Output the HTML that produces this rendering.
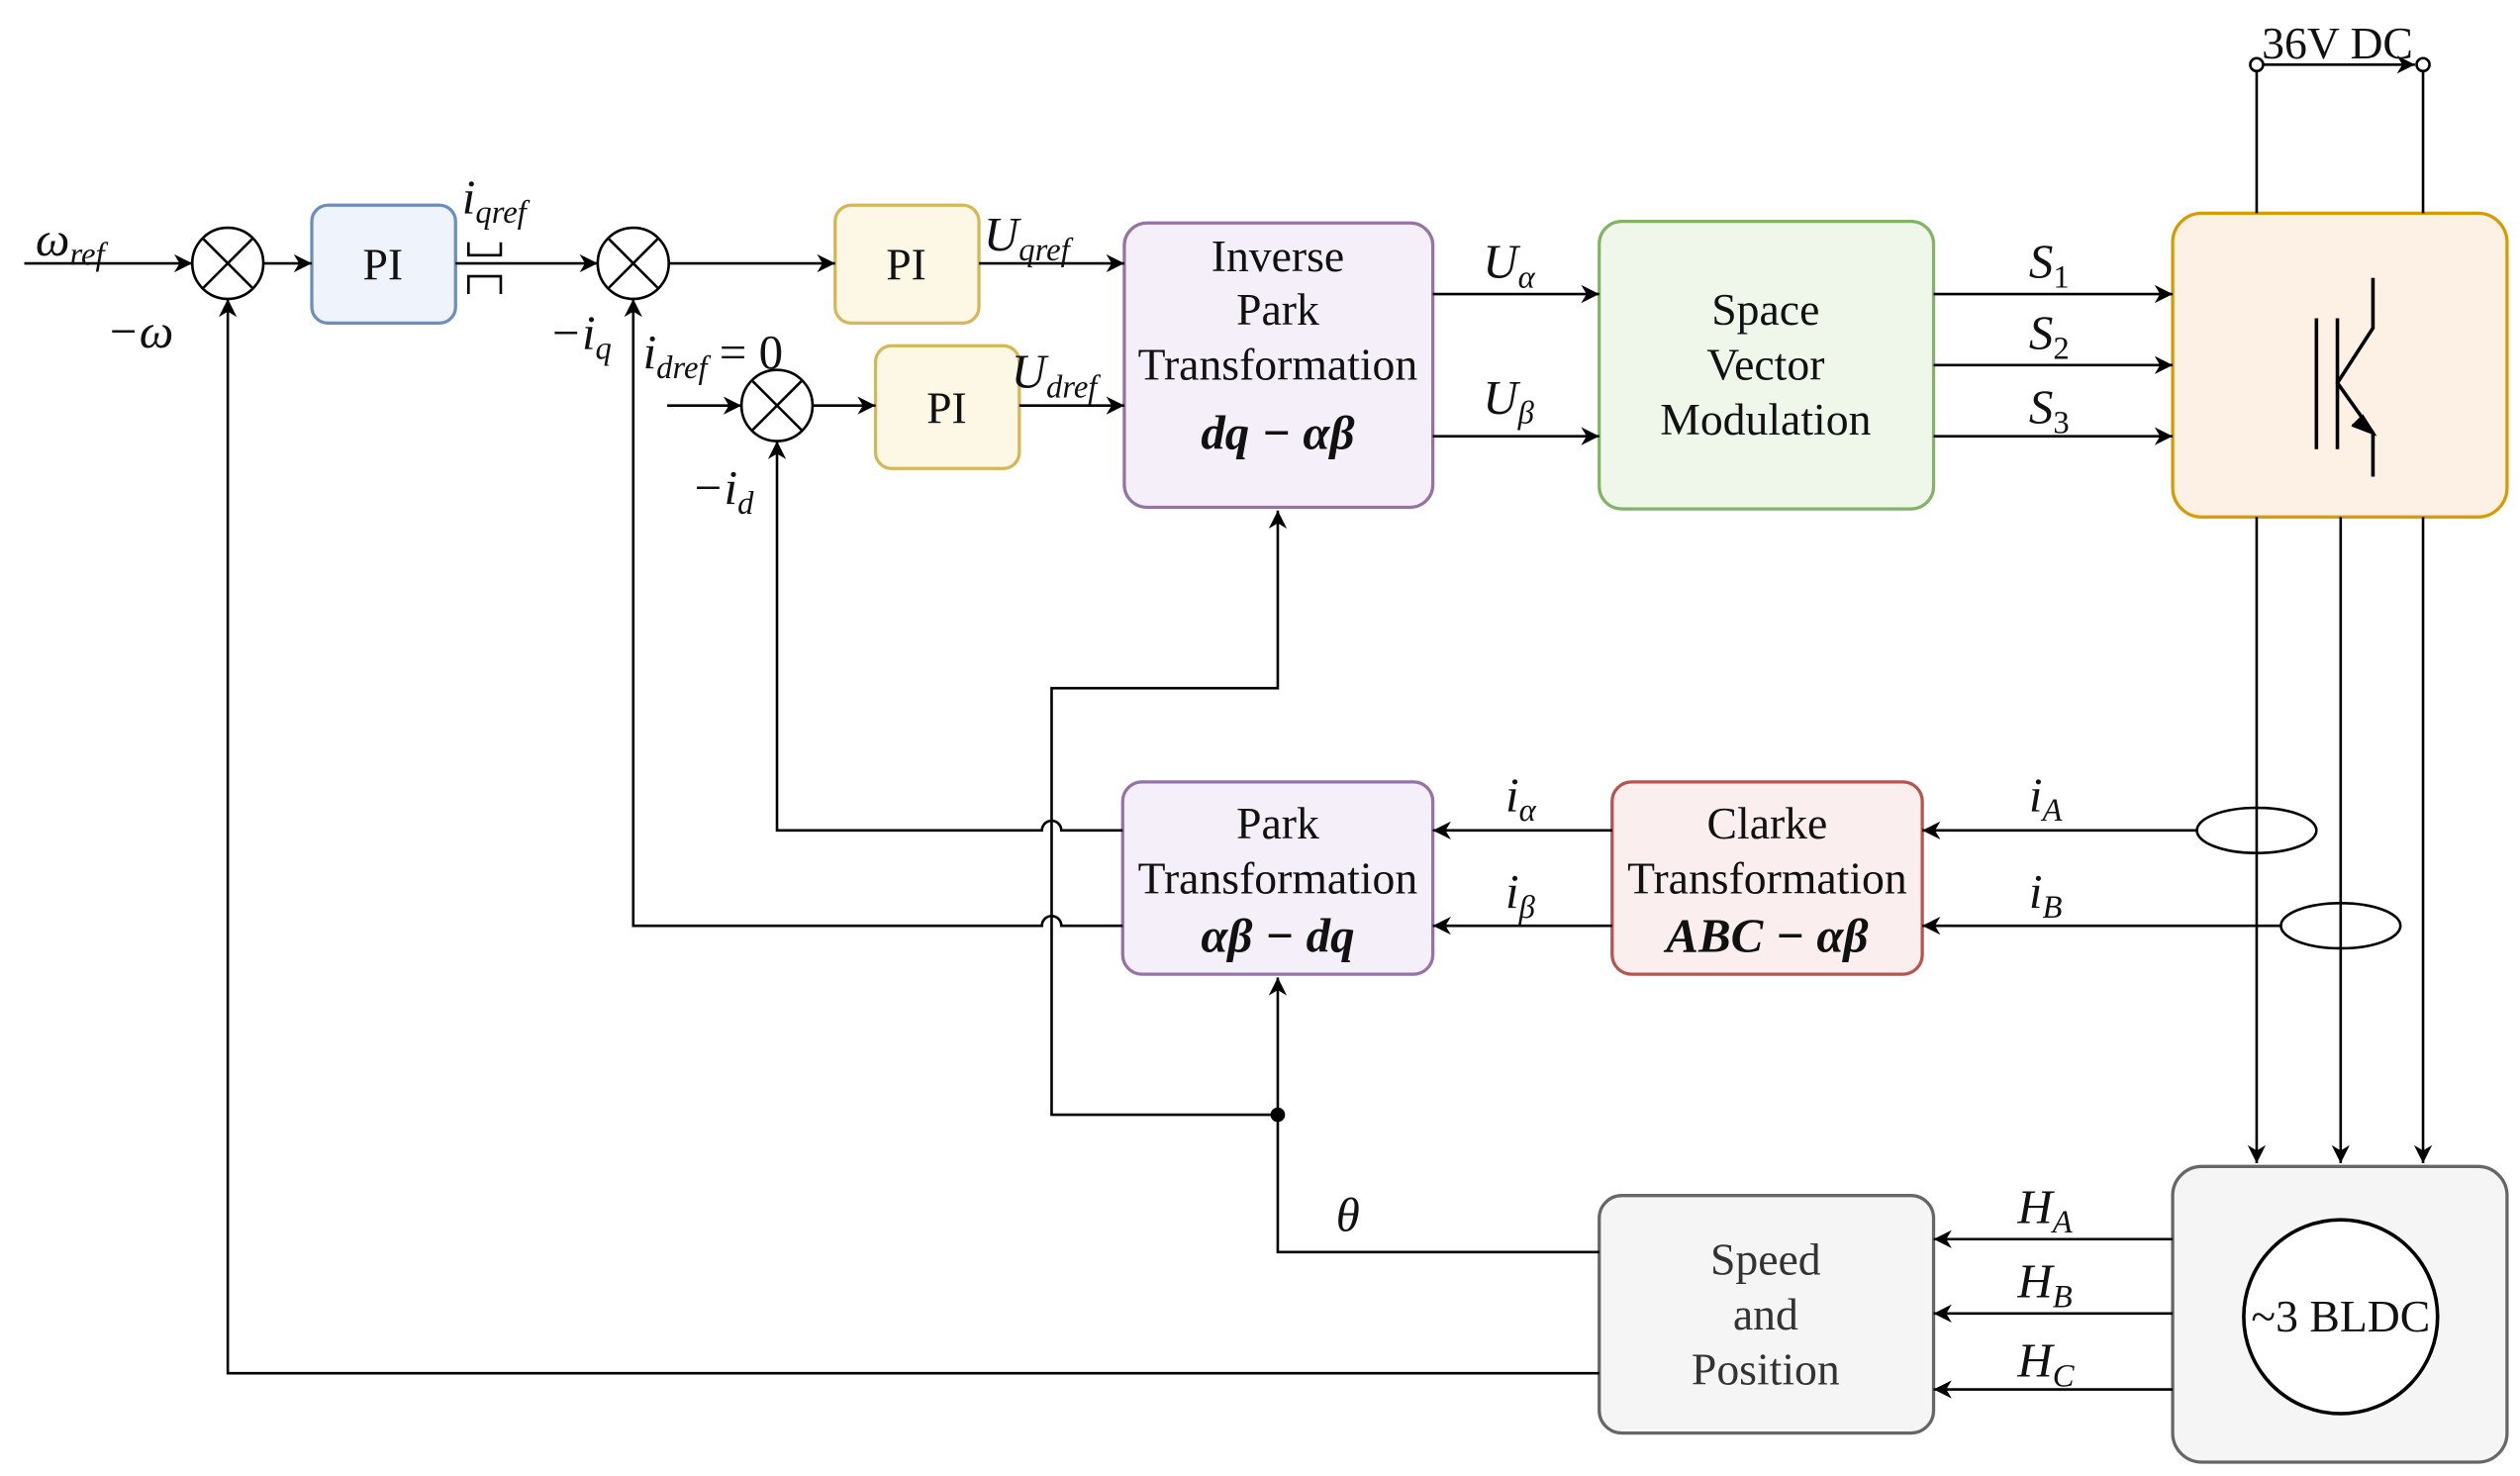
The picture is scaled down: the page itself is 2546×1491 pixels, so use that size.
<!DOCTYPE html>
<html><head><meta charset="utf-8"><style>
html,body{margin:0;padding:0;background:#fff;}
svg{display:block;}
text{font-family:"Liberation Serif",serif;fill:#111;}
.t{font-size:28px;text-anchor:middle;}
.m{font-size:30px;font-style:italic;}
.s{font-size:20px;font-style:italic;}
.b{font-size:30px;font-style:italic;font-weight:bold;text-anchor:middle;}
</style></head><body>
<svg width="2546" height="1491" viewBox="0 0 1560 913.6" xmlns="http://www.w3.org/2000/svg">
<defs>
<marker id="a" viewBox="0 0 10 10" refX="10" refY="5" markerWidth="7" markerHeight="7" orient="auto-start-reverse"><path d="M0,0 L10,5 L0,10 L3,5 z" fill="#000"/></marker>
</defs>
<g fill="none" stroke-width="2">
<rect x="193" y="127" width="89" height="73" rx="10" fill="#eef3fc" stroke="#6c8ebf"/>
<rect x="517" y="127" width="89" height="73" rx="10" fill="#fdf8e6" stroke="#d6b656"/>
<rect x="542" y="214" width="89" height="76" rx="10" fill="#fdf8e6" stroke="#d6b656"/>
<rect x="696" y="138" width="191" height="176" rx="14" fill="#f4eff8" stroke="#9673a6"/>
<rect x="990" y="137" width="207" height="178" rx="14" fill="#eff7ea" stroke="#82b366"/>
<rect x="1345" y="132" width="207" height="188" rx="18" fill="#fdf1e6" stroke="#d79b00"/>
<rect x="695" y="484" width="192" height="119" rx="12" fill="#f4eff8" stroke="#9673a6"/>
<rect x="998" y="484" width="192" height="119" rx="12" fill="#fbeeee" stroke="#b85450"/>
<rect x="990" y="740" width="207" height="147" rx="14" fill="#f5f5f5" stroke="#666"/>
<rect x="1345" y="722" width="207" height="183" rx="18" fill="#f5f5f5" stroke="#666"/>
</g>
<g fill="none" stroke="#000" stroke-width="1.6">
<circle cx="141" cy="163" r="22" fill="#fff"/><path d="M126,148 L156,178 M156,148 L126,178"/>
<circle cx="392" cy="163" r="22" fill="#fff"/><path d="M377,148 L407,178 M407,148 L377,178"/>
<circle cx="481" cy="251" r="22" fill="#fff"/><path d="M466,236 L496,266 M496,236 L466,266"/>
<path d="M15,163 H119" marker-end="url(#a)"/>
<path d="M163,163 H193" marker-end="url(#a)"/>
<path d="M282,163 H370" marker-end="url(#a)"/>
<path d="M290,150 V158 H310 V150 M290,182 V171 H310 V182"/>
<path d="M414,163 H517" marker-end="url(#a)"/>
<path d="M413,251 H459" marker-end="url(#a)"/>
<path d="M503,251 H542" marker-end="url(#a)"/>
<path d="M606,163 H696" marker-end="url(#a)"/>
<path d="M631,251 H696" marker-end="url(#a)"/>
<path d="M887,182 H990" marker-end="url(#a)"/>
<path d="M887,270 H990" marker-end="url(#a)"/>
<path d="M1197,182 H1345" marker-end="url(#a)"/>
<path d="M1197,226 H1345" marker-end="url(#a)"/>
<path d="M1197,270 H1345" marker-end="url(#a)"/>
<path d="M1397,44 V132 M1500,44 V132"/>
<circle cx="1397" cy="40" r="4" fill="#fff"/><circle cx="1500" cy="40" r="4" fill="#fff"/>
<path d="M1401,40 H1495" marker-end="url(#a)"/>
<path d="M1434,197 V278 M1447,197 V278 M1469,172 V203 L1447,237 L1469,268 V295" stroke-width="2.2"/>
<path d="M1462,257 L1469,268 L1456,263" fill="#000" stroke-width="2"/>
<path d="M1397,320 V720" marker-end="url(#a)"/>
<path d="M1449,320 V720" marker-end="url(#a)"/>
<path d="M1500,320 V720" marker-end="url(#a)"/>
<ellipse cx="1397" cy="514" rx="37" ry="14"/>
<ellipse cx="1449" cy="573" rx="37" ry="14"/>
<path d="M1360,514 H1190" marker-end="url(#a)"/>
<path d="M1412,573 H1190" marker-end="url(#a)"/>
<path d="M998,514 H887" marker-end="url(#a)"/>
<path d="M998,573 H887" marker-end="url(#a)"/>
<path d="M695,514 H657 A6,6 0 0 0 645,514 H481 V273" marker-end="url(#a)"/>
<path d="M695,573 H657 A6,6 0 0 0 645,573 H392 V185" marker-end="url(#a)"/>
<path d="M990,775 H791 V605" marker-end="url(#a)"/>
<path d="M791,690 H651 V426 H791 V316" marker-end="url(#a)"/>
<path d="M990,850 H141 V185" marker-end="url(#a)"/>
<path d="M1345,767 H1197" marker-end="url(#a)"/>
<path d="M1345,813 H1197" marker-end="url(#a)"/>
<path d="M1345,860 H1197" marker-end="url(#a)"/>
<circle cx="1449" cy="815" r="60" fill="#fff" stroke-width="2.2"/>
</g>
<circle cx="791" cy="690" r="4.5" fill="#000"/>
<text class="t" x="237" y="173">PI</text>
<text class="t" x="561" y="173">PI</text>
<text class="t" x="586" y="262">PI</text>
<text class="t" x="791" y="168">Inverse</text>
<text class="t" x="791" y="201">Park</text>
<text class="t" x="791" y="235">Transformation</text>
<text class="b" x="791" y="278">dq − αβ</text>
<text class="t" x="1093" y="201">Space</text>
<text class="t" x="1093" y="235">Vector</text>
<text class="t" x="1093" y="269">Modulation</text>
<text class="t" x="791" y="519">Park</text>
<text class="t" x="791" y="553">Transformation</text>
<text class="b" x="791" y="589">αβ − dq</text>
<text class="t" x="1094" y="519">Clarke</text>
<text class="t" x="1094" y="553">Transformation</text>
<text class="b" x="1094" y="589">ABC − αβ</text>
<text class="t" x="1093" y="789" style="fill:#333">Speed</text>
<text class="t" x="1093" y="823" style="fill:#333">and</text>
<text class="t" x="1093" y="857" style="fill:#333">Position</text>
<text class="t" x="1449" y="824">~3 BLDC</text>
<text class="t" x="1447" y="36">36V DC</text>
<text class="m" x="22" y="158">ω<tspan class="s" dy="6">ref</tspan></text>
<text class="m" x="66" y="215">−ω</text>
<text class="m" x="286" y="132">i<tspan class="s" dy="6">qref</tspan></text>
<text class="m" x="340" y="216">−i<tspan class="s" dy="6">q</tspan></text>
<text class="m" x="398" y="228">i<tspan class="s" dy="6">dref</tspan><tspan dy="-6" style="font-style:normal"> = 0</tspan></text>
<text class="m" x="428" y="312">−i<tspan class="s" dy="6">d</tspan></text>
<text class="m" x="609" y="155">U<tspan class="s" dy="6">qref</tspan></text>
<text class="m" x="626" y="240">U<tspan class="s" dy="6">dref</tspan></text>
<text class="m" x="918" y="172">U<tspan class="s" dy="6">α</tspan></text>
<text class="m" x="918" y="256">U<tspan class="s" dy="6">β</tspan></text>
<text class="m" x="1256" y="172">S<tspan class="s" dy="6" style="font-style:normal">1</tspan></text>
<text class="m" x="1256" y="216">S<tspan class="s" dy="6" style="font-style:normal">2</tspan></text>
<text class="m" x="1256" y="262">S<tspan class="s" dy="6" style="font-style:normal">3</tspan></text>
<text class="m" x="932" y="502">i<tspan class="s" dy="6">α</tspan></text>
<text class="m" x="932" y="562">i<tspan class="s" dy="6">β</tspan></text>
<text class="m" x="1256" y="502">i<tspan class="s" dy="6">A</tspan></text>
<text class="m" x="1256" y="562">i<tspan class="s" dy="6">B</tspan></text>
<text class="m" x="827" y="762">θ</text>
<text class="m" x="1249" y="757">H<tspan class="s" dy="6">A</tspan></text>
<text class="m" x="1249" y="803">H<tspan class="s" dy="6">B</tspan></text>
<text class="m" x="1249" y="852">H<tspan class="s" dy="6">C</tspan></text>
</svg>
</body></html>
